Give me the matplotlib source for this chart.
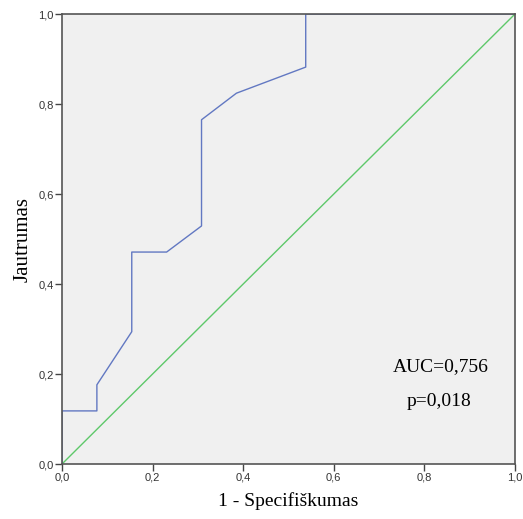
import matplotlib
matplotlib.use("Agg")
import matplotlib.pyplot as plt

# ROC curve points (1 - specificity, sensitivity)
fpr = [0.0, 0.0, 0.077, 0.077, 0.154, 0.154, 0.231, 0.308, 0.308, 0.385, 0.538, 0.538, 1.0]
tpr = [0.0, 0.118, 0.118, 0.176, 0.294, 0.471, 0.471, 0.529, 0.765, 0.824, 0.882, 1.0, 1.0]
ref_line = [0.0, 1.0]
ticks = [0.0, 0.2, 0.4, 0.6, 0.8, 1.0]
tick_labels = ["0,0", "0,2", "0,4", "0,6", "0,8", "1,0"]
auc_text = "AUC=0,756"
p_text = "p=0,018"

fig = plt.figure(figsize=(5.23, 5.19), dpi=100)
ax = fig.add_axes([62 / 523, 55 / 519, 453 / 523, 450 / 519])
ax.set_facecolor("#f0f0f0")

ax.plot(ref_line, ref_line, color="#5ec86a", lw=1.0)
ax.plot(fpr, tpr, color="#6278c2", lw=1.0)

ax.set_xlim(0, 1)
ax.set_ylim(0, 1)
ax.set_xticks(ticks)
ax.set_yticks(ticks)
ax.set_xticklabels(tick_labels, family="Liberation Sans", fontsize=8, color="#333333")
ax.set_yticklabels(tick_labels, family="Liberation Sans", fontsize=8, color="#333333")
ax.tick_params(direction="out", length=5, width=1, color="#444444", pad=1)
for s in ax.spines.values():
    s.set_color("#555555")
    s.set_linewidth(1.2)

ax.set_xlabel("1 - Specifiškumas", family="Liberation Serif", fontsize=14, labelpad=7)
ax.set_ylabel("Jautrumas", family="Liberation Serif", fontsize=15, labelpad=4)

ax.text(0.837, 0.216, auc_text, family="Liberation Serif", fontsize=14,
        ha="center", va="center", transform=ax.transAxes)
ax.text(0.832, 0.14, p_text, family="Liberation Serif", fontsize=14,
        ha="center", va="center", transform=ax.transAxes)

fig.savefig("out.png", dpi=100)
